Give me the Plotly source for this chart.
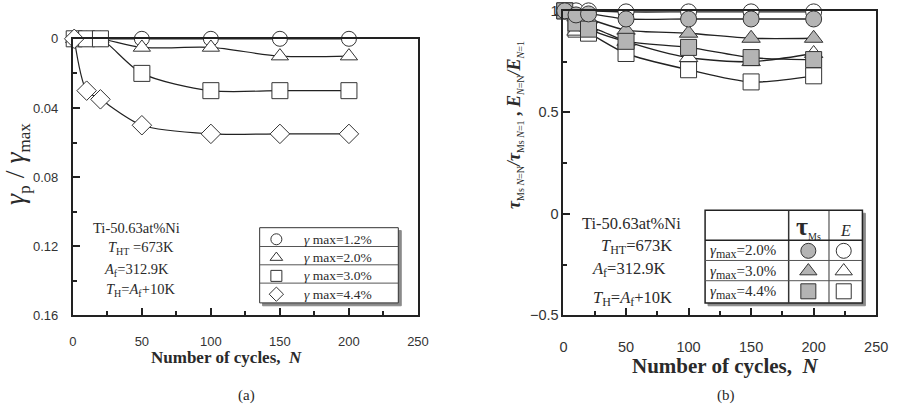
import plotly.graph_objects as go

W, H = 898, 414

# ---------------- data ----------------
N = [1, 10, 20, 50, 100, 150, 200]
# (a) gamma_p / gamma_max
gp_12 = [0, 0, 0, 0, 0, 0, 0]
gp_20 = [0, 0, 0, 0.005, 0.005, 0.010, 0.010]
gp_30 = [0, 0, 0, 0.020, 0.030, 0.030, 0.030]
gp_44 = [0, 0.030, 0.035, 0.050, 0.055, 0.055, 0.055]
# (b) normalized tau_Ms and E
tau_20 = [1.00, 0.98, 0.985, 0.96, 0.96, 0.96, 0.96]
E_20 = [1.00, 1.00, 1.00, 0.995, 0.995, 0.995, 0.995]
tau_30 = [1.00, 0.97, 0.96, 0.905, 0.89, 0.865, 0.865]
E_30 = [1.00, 0.90, 0.92, 0.85, 0.77, 0.75, 0.79]
tau_44 = [1.00, 0.94, 0.91, 0.85, 0.82, 0.77, 0.76]
E_44 = [1.00, 0.91, 0.89, 0.79, 0.71, 0.65, 0.68]

xticks = [0, 50, 100, 150, 200, 250]
xminor = [25, 75, 125, 175, 225]
ya_ticks = [0, 0.04, 0.08, 0.12, 0.16]
ya_text = ["0", "0.04", "0.08", "0.12", "0.16"]
ya_minor = [0.02, 0.06, 0.10, 0.14]
yb_ticks = [-0.5, 0, 0.5, 1]
yb_text = ["\u22120.5", "0", "0.5", "1"]
yb_minor = [-0.25, 0.25, 0.75]

GREY = "#b4b4b4"
EDGE = "#333333"
SERIF = "Liberation Serif, Times New Roman, serif"
SANS = "Liberation Sans, Arial, sans-serif"
TXT = "#2a2a2a"

fig = go.Figure()

# ---------------- (a) ----------------
def add_a(y, sym, size):
    fig.add_trace(go.Scatter(
        x=N, y=y, mode="lines+markers", xaxis="x", yaxis="y",
        line=dict(color="#222", width=1.2, shape="spline", smoothing=0.8),
        marker=dict(symbol=sym, size=size, color="white",
                    line=dict(color=EDGE, width=1)),
        cliponaxis=False, showlegend=False))

add_a(gp_12, "circle", 15)
add_a(gp_20, "triangle-up", 15)
add_a(gp_30, "square", 16)
add_a(gp_44, "diamond", 15)

# ---------------- (b) ----------------
def add_b(y, sym, fill, size=16):
    fig.add_trace(go.Scatter(
        x=N, y=y, mode="lines+markers", xaxis="x2", yaxis="y2",
        line=dict(color="#222", width=1.4, shape="spline", smoothing=0.8),
        marker=dict(symbol=sym, size=size, color=fill,
                    line=dict(color=EDGE, width=1)),
        cliponaxis=False, showlegend=False))

add_b(E_44, "square", "white")
add_b(E_30, "triangle-up", "white")
add_b(E_20, "circle", "white")
add_b(tau_30, "triangle-up", GREY)
add_b(tau_44, "square", GREY)
add_b(tau_20, "circle", GREY)

# ---------------- overlay (pixel) axis for legends/text ----------------
shapes = []
annos = []

def rect(x0, y0, x1, y1, fill, line="black", lw=1):
    shapes.append(dict(type="rect", xref="x3", yref="y3", x0=x0, y0=y0, x1=x1, y1=y1,
                       fillcolor=fill, line=dict(color=line, width=lw), layer="below"))

def hline(x0, x1, y, lw=1, color="#555"):
    shapes.append(dict(type="line", xref="x3", yref="y3", x0=x0, x1=x1, y0=y, y1=y,
                       line=dict(color=color, width=lw), layer="below"))

def vline(x, y0, y1, lw=1, color="#333"):
    shapes.append(dict(type="line", xref="x3", yref="y3", x0=x, x1=x, y0=y0, y1=y1,
                       line=dict(color=color, width=lw), layer="below"))

def text(x, y, t, size, xanchor="left", family=SERIF, angle=0, color=TXT):
    annos.append(dict(xref="x3", yref="y3", x=x, y=y, text=t, showarrow=False,
                      xanchor=xanchor, yanchor="middle", textangle=angle,
                      font=dict(family=family, size=size, color=color)))

def small(t, px):
    return "<span style='font-size:%dpx'>%s</span>" % (px, t)

# legend (a)
rect(263, 232, 404, 310, "#8a8a8a", line="#8a8a8a")
rect(260, 229, 401, 307, "white", line="#333", lw=1)
for yy in [248.5, 267.5, 286.5]:
    hline(260, 401, yy)
leg_a_y = [241, 260, 279, 298]
leg_a_sym = ["circle", "triangle-up", "square", "diamond"]
leg_a_txt = ["1.2%", "2.0%", "3.0%", "4.4%"]
fig.add_trace(go.Scatter(x=[277] * 4, y=leg_a_y, mode="markers", xaxis="x3", yaxis="y3",
                         marker=dict(symbol=leg_a_sym, size=11, color="white",
                                     line=dict(color=EDGE, width=1)),
                         showlegend=False, hoverinfo="skip"))
for yy, t in zip(leg_a_y, leg_a_txt):
    text(303, yy, "<i>\u03b3</i> max=" + t, 13.5)

# legend (b)
rect(716, 214, 876, 310, "#8a8a8a", line="#8a8a8a")
rect(713, 211, 873, 307, "white", line="#222", lw=1.5)
vline(798, 211, 307, lw=1.5)
vline(839, 211, 307, lw=1)
hline(713, 873, 242, lw=1.5, color="#222")
hline(713, 873, 263)
hline(713, 873, 284)
leg_b_y = [253, 274, 295]
leg_b_txt = ["2.0%", "3.0%", "4.4%"]
leg_b_sym = ["circle", "triangle-up", "square"]
fig.add_trace(go.Scatter(x=[818] * 3, y=leg_b_y, mode="markers", xaxis="x3", yaxis="y3",
                         marker=dict(symbol=leg_b_sym, size=15, color=GREY,
                                     line=dict(color=EDGE, width=1)),
                         showlegend=False, hoverinfo="skip"))
fig.add_trace(go.Scatter(x=[854] * 3, y=leg_b_y, mode="markers", xaxis="x3", yaxis="y3",
                         marker=dict(symbol=leg_b_sym, size=15, color="white",
                                     line=dict(color=EDGE, width=1)),
                         showlegend=False, hoverinfo="skip"))
for yy, t in zip(leg_b_y, leg_b_txt):
    text(716, yy + 1, "<i>\u03b3</i><sub>" + small("max", 12) + "</sub>=" + t, 15)
text(818, 228, "<b>\u03c4</b><sub>" + small("Ms", 10) + "</sub>", 26, xanchor="center")
text(856, 232, "<i>E</i>", 16, xanchor="center")

# condition texts (a)
text(135, 229, "Ti-50.63at%Ni", 14.5, xanchor="center")
text(104, 250, "<i>T</i><sub>" + small("HT", 10) + "</sub> =673K", 14.5)
text(100, 273, "<i>A</i><sub>" + small("f", 10) + "</sub>=312.9K", 14.5)
text(102, 294, "<i>T</i><sub>" + small("H", 10) + "</sub>=<i>A</i><sub>"
     + small("f", 10) + "</sub>+10K", 14.5)

# condition texts (b)
text(638, 225, "Ti-50.63at%Ni", 16.5, xanchor="center")
text(605, 249, "<i>T</i><sub>" + small("HT", 12) + "</sub>=673K", 16.5)
text(596, 272, "<i>A</i><sub>" + small("f", 12) + "</sub>=312.9K", 16.5)
text(597, 302, "<i>T</i><sub>" + small("H", 12) + "</sub>=<i>A</i><sub>"
     + small("f", 12) + "</sub>+10K", 16.5)

# axis titles
text(226, 364, "<b>Number of cycles,  <i>N</i></b>", 17, xanchor="center")
text(247, 403, "(a)", 15, xanchor="center")
text(734, 373, "<b>Number of cycles,  <i>N</i></b>", 21, xanchor="center")
text(734, 403, "(b)", 15, xanchor="center")
text(12, 163, "<i>\u03b3</i><sub>" + small("p", 17) + "</sub> / <i>\u03b3</i><sub>"
     + small("max", 17) + "</sub>", 28, xanchor="center", angle=-90)
text(519, 122,
     "<b><i>\u03c4</i></b><sub>" + small("Ms <i>N</i>=N", 10) + "</sub><b><i>/\u03c4</i></b><sub>"
     + small("Ms <i>N</i>=1", 10) + "</sub><b> , <i>E</i></b><sub>"
     + small("<i>N</i>=N", 10) + "</sub><b><i>/E</i></b><sub>" + small("<i>N</i>=1", 10) + "</sub>",
     18, xanchor="center", angle=-90)

def dom_x(a, b):
    return [a / W, b / W]

def dom_y(top, bottom):
    return [1 - bottom / H, 1 - top / H]

axis_common = dict(showline=True, linecolor="#222", linewidth=2, mirror=True,
                   ticks="inside", ticklen=7, tickwidth=1.5, tickcolor="#222",
                   showgrid=False, zeroline=False)

fig.update_layout(
    width=W, height=H, margin=dict(l=0, r=0, t=0, b=0),
    paper_bgcolor="white", plot_bgcolor="rgba(0,0,0,0)",
    showlegend=False,
    xaxis=dict(domain=dom_x(70, 421), range=[0, 250], anchor="y",
               tickvals=xticks, ticktext=[str(v) for v in xticks],
               minor=dict(tickvals=xminor, ticks="inside", ticklen=4, tickcolor="#222"),
               tickfont=dict(family=SANS, size=13, color="#333"),
               ticklabelstandoff=13, **axis_common),
    yaxis=dict(domain=dom_y(33, 320), range=[0.16, 0], anchor="x",
               tickvals=ya_ticks, ticktext=ya_text,
               minor=dict(tickvals=ya_minor, ticks="inside", ticklen=4, tickcolor="#222"),
               tickfont=dict(family=SANS, size=13, color="#333"),
               ticklabelstandoff=10, **axis_common),
    xaxis2=dict(domain=dom_x(569, 887), range=[0, 250], anchor="y2",
                tickvals=xticks, ticktext=[str(v) for v in xticks],
                minor=dict(tickvals=xminor, ticks="inside", ticklen=4, tickcolor="#222"),
                tickfont=dict(family=SANS, size=14.5, color="#333"),
                ticklabelstandoff=17, **axis_common),
    yaxis2=dict(domain=dom_y(4, 320), range=[-0.5, 1], anchor="x2",
                tickvals=yb_ticks, ticktext=yb_text,
                minor=dict(tickvals=yb_minor, ticks="inside", ticklen=4, tickcolor="#222"),
                tickfont=dict(family=SANS, size=14.5, color="#333"),
                ticklabelstandoff=0, **axis_common),
    xaxis3=dict(domain=[0, 1], range=[0, W], visible=False, anchor="y3", fixedrange=True),
    yaxis3=dict(domain=[0, 1], range=[H, 0], visible=False, anchor="x3", fixedrange=True),
    shapes=shapes, annotations=annos,
)

fig.write_html("out.html")
